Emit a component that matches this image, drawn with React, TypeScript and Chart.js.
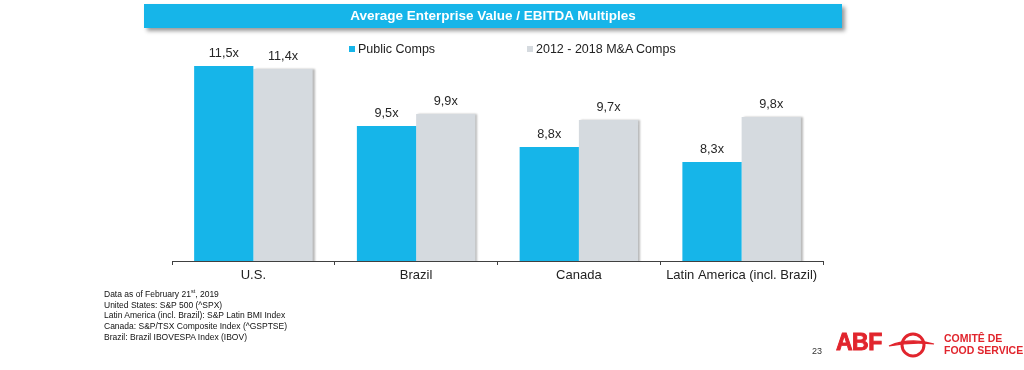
import React, { useEffect, useRef } from "react";
import { Chart, registerables } from "chart.js";

Chart.register(...registerables);

const categories = ["U.S.", "Brazil", "Canada", "Latin America (incl. Brazil)"];
const seriesLabels = ["Public Comps", "2012 - 2018 M&A Comps"];
const publicComps = [11.5, 9.5, 8.8, 8.3];
const maComps = [11.4, 9.9, 9.7, 9.8];
const titleText = "Average Enterprise Value / EBITDA Multiples";
const footnotes = [
  "United States: S&P 500 (^SPX)",
  "Latin America (incl. Brazil): S&P Latin BMI Index",
  "Canada: S&P/TSX Composite Index (^GSPTSE)",
  "Brazil: Brazil IBOVESPA Index (IBOV)",
];
const pageNumber = "23";

const BLUE = "#16B5E9";
const GRAY = "#D5DADF";
const RED = "#E1252D";
const FONT = "'Liberation Sans', Arial, Helvetica, sans-serif";

const fmt = (v: number) => v.toFixed(1).replace(".", ",") + "x";

const shadowPlugin = {
  id: "barShadow",
  beforeDatasetDraw(chart: any, args: any) {
    if (args.index === 1) {
      const ctx = chart.ctx;
      ctx.save();
      ctx.shadowColor = "rgba(0,0,0,0.28)";
      ctx.shadowOffsetX = 2;
      ctx.shadowOffsetY = 0;
      ctx.shadowBlur = 2;
    }
  },
  afterDatasetDraw(chart: any, args: any) {
    if (args.index === 1) chart.ctx.restore();
  },
};

const labelPlugin = {
  id: "valueLabels",
  afterDatasetsDraw(chart: any) {
    const ctx = chart.ctx;
    ctx.save();
    ctx.font = `12.7px ${FONT}`;
    ctx.fillStyle = "#262626";
    ctx.textAlign = "center";
    ctx.textBaseline = "bottom";
    chart.data.datasets.forEach((ds: any, i: number) => {
      const meta = chart.getDatasetMeta(i);
      meta.data.forEach((bar: any, j: number) => {
        ctx.fillText(fmt(ds.data[j]), bar.x, bar.y - 6);
      });
    });
    ctx.restore();
  },
};

function BarChart() {
  const ref = useRef<HTMLCanvasElement>(null);
  useEffect(() => {
    if (!ref.current) return;
    const chart = new Chart(ref.current, {
      type: "bar",
      data: {
        labels: categories,
        datasets: [
          {
            label: seriesLabels[0],
            data: publicComps,
            backgroundColor: BLUE,
            categoryPercentage: 0.728,
            barPercentage: 1,
          },
          {
            label: seriesLabels[1],
            data: maComps,
            backgroundColor: GRAY,
            categoryPercentage: 0.728,
            barPercentage: 1,
          },
        ],
      },
      options: {
        animation: false,
        responsive: false,
        layout: { padding: { left: 172, right: 201, top: 36, bottom: 79 } },
        plugins: {
          legend: { display: false },
          tooltip: { enabled: false },
          title: { display: false },
        },
        scales: {
          y: {
            display: false,
            min: 5,
            max: 12.5,
          },
          x: {
            afterFit: (scale: any) => {
              scale.height = 30;
            },
            grid: {
              offset: true,
              drawOnChartArea: false,
              drawTicks: true,
              tickLength: 4,
              color: "#404040",
            },
            border: { display: true, color: "#404040", width: 1 },
            ticks: {
              color: "#222222",
              font: { family: FONT, size: 13 },
              padding: 3,
              maxRotation: 0,
              autoSkip: false,
            },
          },
        },
      },
      plugins: [shadowPlugin, labelPlugin],
    });
    return () => chart.destroy();
  }, []);
  return (
    <canvas
      ref={ref}
      width={1024}
      height={370}
      style={{ position: "absolute", left: 0, top: 0, width: 1024, height: 370 }}
    />
  );
}

export default function App() {
  const legendText: React.CSSProperties = {
    position: "absolute",
    top: 41,
    fontSize: 12.5,
    lineHeight: "16px",
    color: "#222",
    whiteSpace: "nowrap",
  };
  const box: React.CSSProperties = { position: "absolute", top: 46, width: 6, height: 6 };
  return (
    <div
      style={{
        position: "absolute",
        left: 0,
        top: 0,
        width: 1024,
        height: 370,
        background: "#fff",
        fontFamily: FONT,
        overflow: "hidden",
      }}
    >
      <BarChart />
      <div
        style={{
          position: "absolute",
          left: 144,
          top: 4,
          width: 698,
          height: 24,
          background: BLUE,
          boxShadow: "3px 3px 4px rgba(0,0,0,0.4)",
          color: "#fff",
          fontWeight: "bold",
          fontSize: 13.5,
          lineHeight: "24px",
          textAlign: "center",
        }}
      >
        {titleText}
      </div>
      <div style={{ ...box, left: 349, background: BLUE }} />
      <div style={{ ...legendText, left: 358 }}>{seriesLabels[0]}</div>
      <div style={{ ...box, left: 527, background: GRAY }} />
      <div style={{ ...legendText, left: 536 }}>{seriesLabels[1]}</div>

      <div
        style={{
          position: "absolute",
          left: 104,
          top: 289,
          fontSize: 8.5,
          lineHeight: "10.7px",
          color: "#111",
          whiteSpace: "nowrap",
        }}
      >
        <div>
          Data as of February 21<sup style={{ fontSize: 5.5, lineHeight: 0 }}>st</sup>, 2019
        </div>
        {footnotes.map((f) => (
          <div key={f}>{f}</div>
        ))}
      </div>

      <div
        style={{
          position: "absolute",
          left: 812,
          top: 345,
          fontSize: 9,
          lineHeight: "12px",
          color: "#333",
        }}
      >
        {pageNumber}
      </div>
      <div
        style={{
          position: "absolute",
          left: 836,
          top: 329,
          fontSize: 23,
          lineHeight: "26px",
          fontWeight: "bold",
          color: RED,
          letterSpacing: -0.5,
          WebkitTextStroke: `0.9px ${RED}`,
        }}
      >
        ABF
      </div>
      <svg
        style={{ position: "absolute", left: 888, top: 331 }}
        width={50}
        height={30}
        viewBox="0 0 50 30"
      >
        <circle cx={25} cy={14} r={11} fill="none" stroke={RED} strokeWidth={3} />
        <path d="M 1 15 Q 22 6 46 13 Q 24 10.5 1 15 Z" fill={RED} stroke={RED} strokeWidth={1.2} />
      </svg>
      <div
        style={{
          position: "absolute",
          left: 944,
          top: 332,
          fontSize: 10.5,
          lineHeight: "12px",
          fontWeight: "bold",
          color: RED,
          whiteSpace: "nowrap",
        }}
      >
        <div>COMITÊ DE</div>
        <div>FOOD SERVICE</div>
      </div>
    </div>
  );
}
